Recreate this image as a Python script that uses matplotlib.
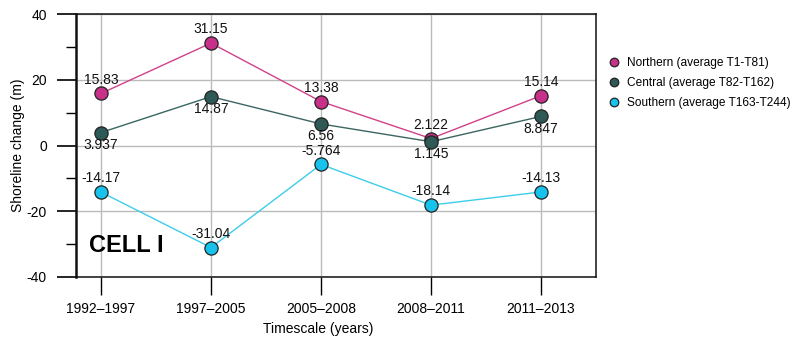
import matplotlib
matplotlib.use("Agg")
import matplotlib.pyplot as plt
from matplotlib.ticker import MultipleLocator

plt.rcParams['font.family'] = ['Liberation Sans', 'DejaVu Sans']
plt.rcParams['axes.unicode_minus'] = False

categories = ["1992\u20131997", "1997\u20132005", "2005\u20132008", "2008\u20132011", "2011\u20132013"]
northern = [15.83, 31.15, 13.38, 2.122, 15.14]
central = [3.937, 14.87, 6.56, 1.145, 8.847]
southern = [-14.17, -31.04, -5.764, -18.14, -14.13]
north_lbl = ["15.83", "31.15", "13.38", "2.122", "15.14"]
central_lbl = ["3.937", "14.87", "6.56", "1.145", "8.847"]
south_lbl = ["-14.17", "-31.04", "-5.764", "-18.14", "-14.13"]

fig = plt.figure(figsize=(7.97, 3.40), dpi=100)
ax = fig.add_axes([76/797, 1-277/340, (596-76)/797, (277-14)/340])

x = list(range(len(categories)))
series = [
    (northern, north_lbl, "#D0418A", "#C8318A", "Northern (average T1-T81)", 1),
    (central, central_lbl, "#3A6662", "#2E5956", "Central (average T82-T162)", -1),
    (southern, south_lbl, "#3CCDEB", "#17C3EC", "Southern (average T163-T244)", 1),
]
for vals, lbls, lc, mc, name, pos in series:
    ax.plot(x, vals, color=lc, lw=1.0, zorder=3)
    ax.plot(x, vals, 'o', ms=9.5, mfc=mc, mec="#222222", mew=0.9, zorder=4, label=name, linestyle='none')
    for xi, v, t in zip(x, vals, lbls):
        ax.annotate(t, (xi, v), xytext=(0, 5 if pos > 0 else -4), textcoords='offset points',
                    ha='center', va='bottom' if pos > 0 else 'top', fontsize=10, color="#111111", zorder=5)

ax.set_xlim(-0.227, 4.5)
ax.set_ylim(-40, 40)
ax.set_xticks(x)
ax.set_xticklabels(categories, fontsize=10)
ax.yaxis.set_major_locator(MultipleLocator(20))
ax.yaxis.set_minor_locator(MultipleLocator(10))
ax.tick_params(axis='y', which='major', length=14, width=1.2, labelsize=10, direction='out', pad=7)
ax.tick_params(axis='y', which='minor', length=7, width=1.0, direction='out')
ax.tick_params(axis='x', which='major', length=13, width=1.0, labelsize=10, pad=5)
ax.grid(True, which='major', color="#BBBBBB", lw=1.0, zorder=0)
ax.set_axisbelow(True)
for s in ['top', 'right', 'bottom']:
    ax.spines[s].set_color("#111111")
    ax.spines[s].set_linewidth(1.1)
ax.spines['left'].set_linewidth(1.8)
ax.spines['left'].set_color("#111111")

ax.set_ylabel("Shoreline change (m)", fontsize=10)
ax.yaxis.set_label_coords(-0.098, 0.5)
ax.set_xlabel("Timescale (years)", fontsize=10)
ax.xaxis.set_label_coords(0.466, -0.17)

ax.text(0.025, 0.12, "CELL I", transform=ax.transAxes, fontsize=17, fontweight='bold',
        ha='left', va='center')

leg = fig.legend(loc='upper left', bbox_to_anchor=(598/797, 1-46/340), frameon=False,
                 fontsize=8.6, handletextpad=0.6, labelspacing=0.68, markerscale=0.65, handlelength=0.9)

fig.savefig("out.png", dpi=100)
